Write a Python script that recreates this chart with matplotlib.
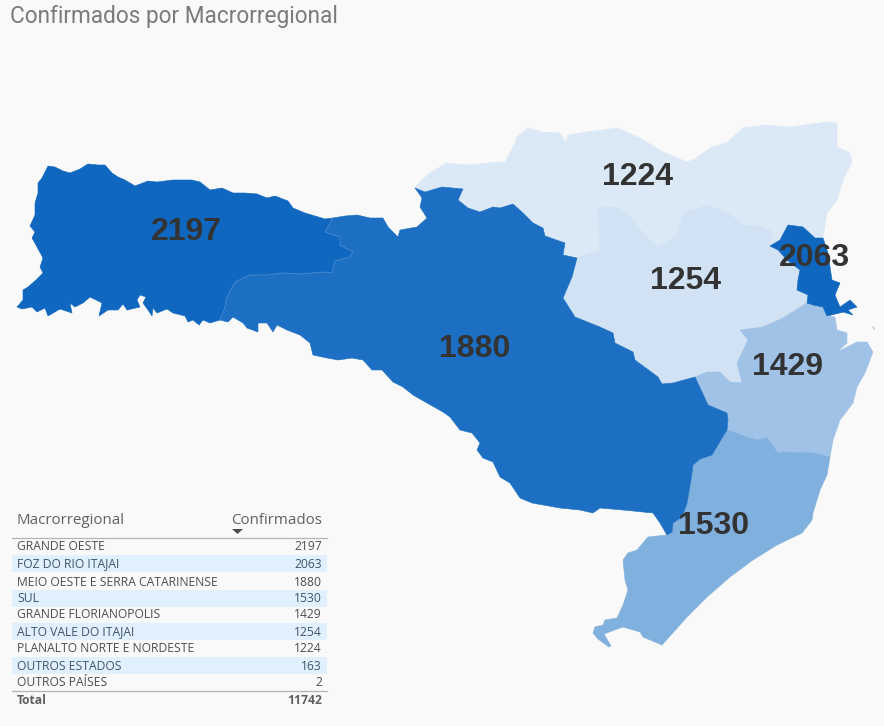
import numpy as np
import matplotlib
matplotlib.use("Agg")
import matplotlib.pyplot as plt
from matplotlib.patches import Polygon, Rectangle

TITLE = "Confirmados por Macrorregional"
TABLE_HEAD = ["Macrorregional", "Confirmados"]
regions = ["GRANDE OESTE", "FOZ DO RIO ITAJAI", "MEIO OESTE E SERRA CATARINENSE", "SUL",
           "GRANDE FLORIANOPOLIS", "ALTO VALE DO ITAJAI", "PLANALTO NORTE E NORDESTE",
           "OUTROS ESTADOS", "OUTROS PAÍSES"]
confirmed = [2197, 2063, 1880, 1530, 1429, 1254, 1224, 163, 2]
total = 11742

# Map outlines (shared borders are reused)
oeste_north = [(48,166),(55,167),(63,171),(70,173),(80,169),(88,164),(98,165),(105,165),(112,173),(118,177),(125,180),
               (135,186),(148,181),(157,182),(173,180),(192,180),(200,182),(210,190),(222,188),(233,193),(245,193),
               (257,194),(267,198),(275,196),(288,201),(293,208),(305,213),(325,219),(333,218)]
oeste_meio = [(333,218),(328,227),(325,232),(340,237),(340,245),(353,252),(350,257),(335,261),(332,273),(325,272),
              (300,274),(283,273),(267,275),(250,275),(235,282),(227,297),(225,307),(220,320)]
oeste_south = [(220,320),(210,323),(203,320),(199,325),(193,320),(188,322),(185,316),(173,313),(167,309),(157,313),
               (153,308),(152,316),(148,310),(143,303),(146,297),(140,295),(137,300),(140,307),(127,310),(123,304),
               (118,310),(108,310),(99,316),(102,303),(90,297),(83,303),(75,307),(70,303),(72,313),(60,309),
               (48,316),(45,308),(37,312),(32,307),(22,309),(17,307),(23,300),(23,290),(28,287),(36,280),(43,273),
               (40,267),(43,258),(37,247),(32,238),(35,232),(30,226),(35,215),(35,203),(38,193),(38,183),(42,178)]
meio_north = [(333,218),(345,216),(357,215),(370,218),(383,218),(388,227),(398,237),(400,230),(417,227),(427,218),(420,207),(422,198),(415,188)]
meio_planalto = [(415,188),(425,192),(442,187),(463,189),(458,200),(468,208),(480,212),(493,207),(500,208),(513,204),
                 (523,213),(533,223),(543,228),(545,236),(565,243),(563,255),(577,258)]
meio_alto = [(577,258),(572,277),(563,298),(575,317),(600,327),(613,333),(615,343),(633,352),(635,360),(658,377),
             (662,384),(673,383),(695,377)]
meio_fpolis = [(695,377),(702,392),(708,405),(727,413),(728,420),(727,430)]
meio_sul = [(727,430),(722,438),(712,455),(700,459),(693,465),(691,480),(687,503),(682,517),(673,523),(672,532),(667,535)]
meio_south = [(667,535),(660,523),(653,513),(623,510),(600,508),(593,513),(580,510),(560,508),(532,503),(520,498),
              (510,483),(500,477),(493,462),(483,458),(477,450),(480,443),(472,433),(460,430),(450,417),(443,412),
              (427,403),(413,395),(403,387),(393,382),(382,370),(372,370),(363,360),(352,358),(338,360),(327,358),
              (313,355),(310,343),(300,335),(287,330),(277,325),(273,332),(267,323),(258,323),(258,332),(247,328),
              (243,323),(233,317),(228,322),(220,320)]
planalto_north = [(415,188),(422,180),(430,173),(447,163),(467,165),(500,162),(505,162),(515,143),(517,137),(528,128),
                  (542,132),(560,133),(566,143),(568,135),(587,132),(617,128),(640,138),(663,152),(687,162),(695,159),
                  (710,148),(728,142),(743,128),(767,125),(790,127),(827,122),(837,123),(837,147),(850,153),(852,162),
                  (843,180),(837,200),(827,213),(823,238)]
foz_top = [(823,238),(815,238),(803,227),(788,225),(780,240),(770,246)]
alto_top = [(770,246),(772,232),(763,227),(743,225),(728,213),(708,205),(683,213),(677,235),(658,247),(643,233),
            (630,217),(617,207),(598,208),(600,250),(577,258)]
foz_east = [(823,238),(828,253),(830,267),(832,280),(840,283),(835,295),(840,307),(850,300),(857,307),(848,310),
            (853,315),(843,312),(827,316),(823,307),(813,305),(807,303)]
foz_west = [(807,303),(808,295),(797,290),(798,280),(800,270),(787,260),(778,250),(770,246)]
alto_fpolis = [(807,303),(783,318),(763,327),(740,330),(748,340),(737,363),(742,383),(730,382),(720,372),(707,372),(695,377)]
fpolis_coast = [(827,316),(835,317),(837,330),(847,333),(847,343),(837,352),(847,347),(857,342),(867,342),(873,352),
                (865,373),(857,387),(853,403),(840,420),(833,440),(830,457)]
fpolis_sul = [(830,457),(813,453),(783,452),(778,453),(767,438),(757,440),(747,437),(727,430)]
sul_coast = [(830,457),(827,475),(820,490),(813,513),(812,520),(802,533),(777,545),(753,560),(730,577),(707,597),
             (687,617),(662,645),(643,637),(640,632),(623,627),(612,631),(604,634),(611,646),(609,647),(598,639),
             (593,633),(595,627),(603,625),(605,620),(617,618),(623,605),(628,590),(625,580),(623,560),(628,553),
             (637,550),(648,537),(667,535)]
fpolis_islet = [(872,326),(875,328),(874,330)]

def ring(*parts):
    pts = []
    for part in parts:
        pts.extend(part)
    return pts

shapes = {
    "PLANALTO NORTE E NORDESTE": ring(planalto_north, foz_top, alto_top, meio_planalto[::-1]),
    "ALTO VALE DO ITAJAI": ring(alto_top, meio_alto, alto_fpolis[::-1], foz_west[::-1]),
    "GRANDE FLORIANOPOLIS": ring(foz_east[-5:], alto_fpolis, meio_fpolis, fpolis_sul[::-1], fpolis_coast[::-1]),
    "SUL": ring(fpolis_sul[::-1], sul_coast, meio_sul[::-1]),
    "FOZ DO RIO ITAJAI": ring(foz_east, foz_west, foz_top[::-1]),
    "MEIO OESTE E SERRA CATARINENSE": ring(meio_north, meio_planalto, meio_alto, meio_fpolis, meio_sul, meio_south, oeste_meio[::-1]),
    "GRANDE OESTE": ring(oeste_north, oeste_meio, oeste_south),
}
fills = {
    "PLANALTO NORTE E NORDESTE": "#dbe8f6",
    "ALTO VALE DO ITAJAI": "#d1e2f4",
    "GRANDE FLORIANOPOLIS": "#9fc2e6",
    "SUL": "#80b0de",
    "FOZ DO RIO ITAJAI": "#0f67c0",
    "MEIO OESTE E SERRA CATARINENSE": "#1d6fc3",
    "GRANDE OESTE": "#1067c0",
}
label_at = {
    "GRANDE OESTE": (186, 232), "FOZ DO RIO ITAJAI": (814, 258),
    "MEIO OESTE E SERRA CATARINENSE": (475, 349), "SUL": (714, 526),
    "GRANDE FLORIANOPOLIS": (788, 367), "ALTO VALE DO ITAJAI": (686, 281),
    "PLANALTO NORTE E NORDESTE": (638, 177),
}

BG = "#f9f9f9"
fig = plt.figure(figsize=(8.84, 7.26), dpi=100, facecolor=BG)
ax = fig.add_axes([0, 0, 1, 1])
ax.set_xlim(0, 884)
ax.set_ylim(726, 0)
ax.axis("off")

for name, pts in shapes.items():
    ax.add_patch(Polygon(np.array(pts), closed=True, facecolor=fills[name],
                         edgecolor=fills[name], linewidth=0.4, zorder=2))
ax.add_patch(Polygon(np.array(fpolis_islet), closed=True, facecolor=fills["GRANDE FLORIANOPOLIS"], edgecolor="none", zorder=2))
bx, by = zip(*oeste_meio)
ax.plot(bx, by, color="#4a8ad0", lw=0.6, zorder=3)

values = dict(zip(regions, confirmed))
for name, (x, y) in label_at.items():
    ax.text(x, y, str(values[name]), ha="center", va="center", family="Liberation Sans",
            weight="bold", fontsize=23, color="#333333", zorder=5)

ax.text(10, 16, TITLE, ha="left", va="center", family="Roboto", fontsize=16.3, color="#7b7b7b")

# Table
TXT = "#4d4d4d"
ax.text(17, 520, TABLE_HEAD[0], ha="left", va="center", family="Open Sans", fontsize=10.9, color="#606060")
ax.text(322, 520, TABLE_HEAD[1], ha="right", va="center", family="Open Sans", fontsize=10.9, color="#606060")
ax.add_patch(Polygon(np.array([(232, 529), (243, 529), (237.5, 534)]), closed=True, facecolor="#4d4d4d", edgecolor="none", zorder=4))
ax.plot([12, 327], [537.5, 537.5], color="#b5b5b5", lw=0.9)
ax.plot([12, 327], [690.5, 690.5], color="#b5b5b5", lw=0.9)
row_y = [546, 563, 581, 598, 614, 631, 648, 665, 681]
for i, (name, val, y) in enumerate(zip(regions, confirmed, row_y)):
    if i % 2 == 1:
        ax.add_patch(Rectangle((12, y - 8.5), 315, 17, facecolor="#e1f0fe", edgecolor="none", zorder=1))
    color = "#3f5568" if i % 2 == 1 else TXT
    ax.text(17, y + 1, name, ha="left", va="center", family="Open Sans", fontsize=8.75, color=color, zorder=4)
    ax.text(322, y + 1, str(val), ha="right", va="center", family="Open Sans", fontsize=8.75, color=color, zorder=4)
ax.text(17, 700, "Total", ha="left", va="center", family="Open Sans", weight="bold", fontsize=8.75, color="#5f5f5f")
ax.text(322, 700, str(total), ha="right", va="center", family="Open Sans", weight="bold", fontsize=8.75, color="#5f5f5f")

fig.savefig("out.png", dpi=100, facecolor=BG)
